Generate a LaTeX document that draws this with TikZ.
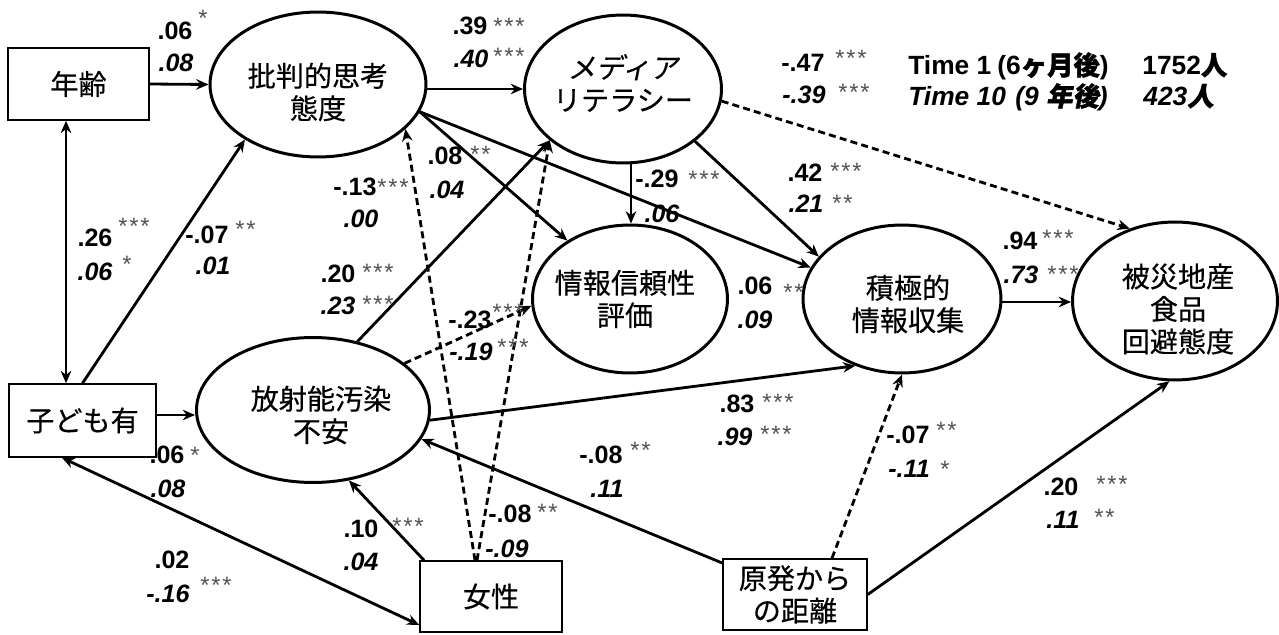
\documentclass[tikz,border=0pt]{standalone}
\usepackage{fontspec}
\setmainfont{Liberation Sans}
\newfontfamily\jp[FakeBold=0.4]{Noto Sans CJK JP}
\newfontfamily\jpsl[FakeSlant=0.2,FakeBold=0.4]{Noto Sans CJK JP}
\newfontfamily\jpb[FakeBold=1.5]{Noto Sans CJK JP}
\newfontfamily\jpbsl[FakeBold=1.5,FakeSlant=0.2]{Noto Sans CJK JP}
\usetikzlibrary{shapes.geometric,arrows.meta}
\begin{document}
\begin{tikzpicture}[x=0.02cm,y=-0.02cm,
  ell/.style={draw, ellipse, line width=1.7pt, inner sep=0pt},
  box/.style={draw, rectangle, line width=0.9pt, inner sep=0pt, align=center,
    font=\jp\fontsize{16}{18.5}\selectfont},
  jt/.style={inner sep=0pt, align=center, font=\jp\fontsize{16}{18.5}\selectfont},
  arr/.style={line width=1.6pt, -{Stealth[length=7pt,width=6pt]}},
  darr/.style={arr, dash pattern=on 4pt off 2.4pt},
  dbl/.style={line width=1.6pt, {Stealth[length=7pt,width=6pt]}-{Stealth[length=7pt,width=6pt]}},
  num/.style={anchor=base, inner sep=0pt, font=\bfseries\fontsize{14.3}{16}\selectfont},
  numi/.style={anchor=base, inner sep=0pt, font=\bfseries\itshape\fontsize{14.3}{16}\selectfont},
  st/.style={anchor=base west, inner sep=0pt, text=black!68, font=\fontsize{13.5}{14}\selectfont},
  leg/.style={anchor=base west, inner sep=0pt, font=\bfseries\fontsize{15}{17}\selectfont},
  legi/.style={anchor=base west, inner sep=0pt, font=\bfseries\itshape\fontsize{15}{17}\selectfont}]
\useasboundingbox (0,0) rectangle (1279,635);

% boxes
\node[box, minimum width=2.82cm, minimum height=1.44cm] (age) at (78.5,84) {年齢};
\node[box, minimum width=2.94cm, minimum height=1.46cm] (child) at (82.5,420.5) {子ども有};
\node[box, minimum width=2.84cm, minimum height=1.42cm] (fem) at (491,596.5) {女性};
\node[box, minimum width=2.88cm, minimum height=1.42cm] (dist) at (795,594.5) {原発から\\の距離};

% ellipses
\node[ell, minimum width=4.32cm, minimum height=2.9cm] (crit) at (318,84.5) {};
\node[ell, minimum width=3.94cm, minimum height=2.96cm] (media) at (623,89) {};
\node[ell, minimum width=3.9cm, minimum height=2.96cm] (rel) at (630,299) {};
\node[ell, minimum width=3.96cm, minimum height=2.96cm] (act) at (902,299) {};
\node[ell, minimum width=4.1cm, minimum height=3.16cm] (avoid) at (1175,301) {};
\node[ell, minimum width=4.66cm, minimum height=2.9cm] (anx) at (313,410) {};

\node[jt] (critT) at (318,92) {批判的思考\\態度};
\node[jt] (mediaT) at (623,83) {{\jpsl メディア}\\リテラシー};
\node[jt] (relT) at (625,299) {情報信頼性\\評価};
\node[jt] (actT) at (908,304) {積極的\\情報収集};
\node[jt] (avoidT) at (1178,309) {被災地産\\食品\\回避態度};
\node[jt] (anxT) at (321,415) {放射能汚染\\不安};

% helper coordinates
\coordinate (h66) at (66,0);
\coordinate (h62) at (62,0);
\coordinate (h424) at (424,0);
\coordinate (h475) at (475,0);
\coordinate (h477) at (477,0);
\coordinate (h832) at (832,0);
\coordinate (h631) at (631,0);
\coordinate (v415) at (0,415);
\coordinate (v625) at (0,625);
\coordinate (v563) at (0,563);
\coordinate (v302) at (0,302);
\coordinate (v89) at (0,89);

% connectors
\draw[arr] (age.east) -- (crit.west);
\draw[dbl] (age.south -| h66) -- (child.north -| h66);
\draw[arr] (child.north) -- (crit.217);
\draw[arr] (child.east |- v415) -- (anx.west |- v415);
\draw[dbl] (child.south -| h62) -- (fem.west |- v625);
\draw[arr] (fem.north -| h424) -- (anx.-63);
\draw[darr] (fem.north -| h475) -- (crit.-27);
\draw[darr] (fem.north -| h477) -- (media.215);
\draw[arr] (anx.57) -- (media.215);
\draw[darr] (anx.27) -- (rel.184);
\draw[arr] (anx.-5) -- (act.235);
\draw[arr] (dist.west |- v563) -- (anx.-15);
\draw[darr] (dist.north -| h832) -- (act.south);
\draw[arr] (dist.east) -- (avoid.-94);
\draw[arr] (act.east |- v302) -- (avoid.west |- v302);
\draw[arr] (crit.east |- v89) -- (media.west);
\draw[arr] (crit.-15) -- (rel.137);
\draw[arr] (crit.-15) -- (act.161);
\draw[arr] (media.south -| h631) -- (rel.north -| h631);
\draw[arr] (media.-36) -- (act.153);
\draw[darr] (media.-7) -- (avoid.122);

% coefficients
\node[num] (n01) at (175,40) {.06};   \node[st] (s01) at (198,27) {*};
\node[numi] (n02) at (176,72) {.08};
\node[num] (n03) at (470,35) {.39};   \node[st] (s03) at (493,35) {*\kern1pt*\kern1pt*};
\node[numi] (n04) at (471,68) {.40};  \node[st] (s04) at (493,65) {*\kern1pt*\kern1pt*};
\node[num] (n05) at (803,72) {-.47};  \node[st] (s05) at (835,67) {*\kern1pt*\kern1pt*};
\node[numi] (n06) at (804,104) {-.39};\node[st] (s06) at (838,101) {*\kern1pt*\kern1pt*};
\node[num] (n07) at (355,195) {-.13}; \node[st] (s07) at (377,195) {*\kern1pt*\kern1pt*};
\node[numi] (n08) at (361,228) {.00};
\node[num] (n09) at (445,165) {.08};  \node[st] (s09) at (470,163) {*\kern1pt*};
\node[numi] (n10) at (447,198) {.04};
\node[num] (n11) at (207,243) {-.07}; \node[st] (s11) at (235,237) {*\kern1pt*};
\node[numi] (n12) at (213,275) {.01};
\node[num] (n13) at (338,282) {.20};  \node[st] (s13) at (362,280) {*\kern1pt*\kern1pt*};
\node[numi] (n14) at (338,315) {.23}; \node[st] (s14) at (362,312) {*\kern1pt*\kern1pt*};
\node[num] (n15) at (95,247) {.26};   \node[st] (s15) at (118,235) {*\kern1pt*\kern1pt*};
\node[numi] (n16) at (95,280) {.06};  \node[st] (s16) at (122,273) {*};
\node[num] (n17) at (657,188) {-.29}; \node[st] (s17) at (688,188) {*\kern1pt*\kern1pt*};
\node[numi] (n18) at (662,222) {.06};
\node[num] (n19) at (805,182) {.42};  \node[st] (s19) at (830,180) {*\kern1pt*\kern1pt*};
\node[numi] (n20) at (806,213) {.21}; \node[st] (s20) at (832,212) {*\kern1pt*};
\node[num] (n21) at (755,295) {.06};  \node[st] (s21) at (783,300) {*\kern1pt*};
\node[numi] (n22) at (755,328) {.09};
\node[num] (n23) at (1020,250) {.94}; \node[st] (s23) at (1042,247) {*\kern1pt*\kern1pt*};
\node[numi] (n24) at (1021,283) {.73};\node[st] (s24) at (1047,282) {*\kern1pt*\kern1pt*};
\node[num] (n25) at (470,328) {-.23}; \node[st] (s25) at (492,320) {*\kern1pt*\kern1pt*};
\node[numi] (n26) at (471,360) {-.19};\node[st] (s26) at (497,355) {*\kern1pt*\kern1pt*};
\node[num] (n27) at (737,412) {.83};  \node[st] (s27) at (762,410) {*\kern1pt*\kern1pt*};
\node[numi] (n28) at (735,445) {.99}; \node[st] (s28) at (760,442) {*\kern1pt*\kern1pt*};
\node[num] (n29) at (601,463) {-.08}; \node[st] (s29) at (630,458) {*\kern1pt*};
\node[numi] (n30) at (607,497) {.11};
\node[num] (n31) at (908,443) {-.07}; \node[st] (s31) at (936,438) {*\kern1pt*};
\node[numi] (n32) at (909,477) {-.11};\node[st] (s32) at (940,477) {*};
\node[num] (n33) at (1061,495) {.20}; \node[st] (s33) at (1096,492) {*\kern1pt*\kern1pt*};
\node[numi] (n34) at (1063,528) {.11};\node[st] (s34) at (1094,525) {*\kern1pt*};
\node[num] (n35) at (167,463) {.06};  \node[st] (s35) at (190,463) {*};
\node[numi] (n36) at (168,497) {.08};
\node[num] (n37) at (172,568) {.02};
\node[numi] (n38) at (168,602) {-.16};\node[st] (s38) at (200,593) {*\kern1pt*\kern1pt*};
\node[num] (n39) at (361,537) {.10};  \node[st] (s39) at (392,534) {*\kern1pt*\kern1pt*};
\node[numi] (n40) at (361,570) {.04};
\node[num] (n41) at (510,522) {-.08}; \node[st] (s41) at (537,520) {*\kern1pt*};
\node[numi] (n42) at (507,557) {-.09};

% legend
\node[leg] (leg1a) at (908,75) {Time 1};
\node[leg] (leg1b) at (997,75) {(6{\jpb ヶ月後})};
\node[leg] (leg1c) at (1142,75) {1752{\jpb 人}};
\node[legi] (leg2a) at (908,106) {Time 10};
\node[legi] (leg2b) at (1015,106) {(9 {\jpbsl 年後})};
\node[legi] (leg2c) at (1143,106) {423{\jpbsl 人}};
\end{tikzpicture}
\end{document}
